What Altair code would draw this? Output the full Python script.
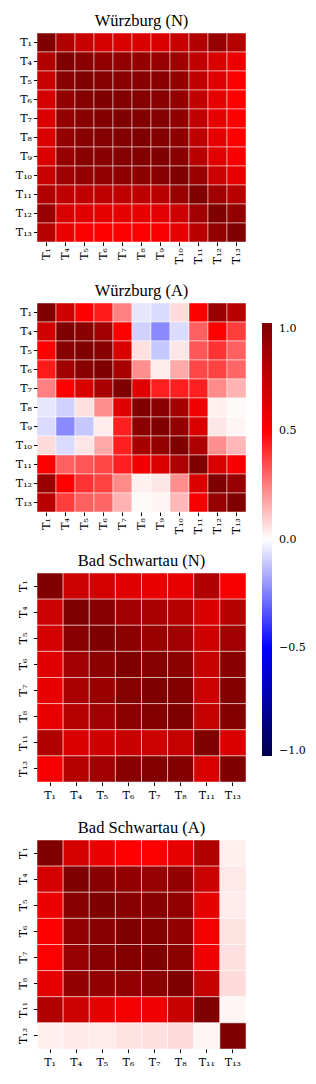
import altair as alt
import pandas as pd

L11 = ["T₁", "T₄", "T₅", "T₆", "T₇", "T₈", "T₉", "T₁₀", "T₁₁", "T₁₂", "T₁₃"]
L8 = ["T₁", "T₄", "T₅", "T₆", "T₇", "T₈", "T₁₁", "T₁₃"]

wuerzburg_n = [
    [1.00, 0.81, 0.72, 0.67, 0.65, 0.65, 0.65, 0.72, 0.81, 0.91, 0.79],
    [0.81, 1.00, 0.97, 0.93, 0.93, 0.92, 0.91, 0.89, 0.75, 0.65, 0.57],
    [0.72, 0.97, 1.00, 0.98, 0.97, 0.97, 0.97, 0.93, 0.75, 0.62, 0.51],
    [0.67, 0.93, 0.98, 1.00, 0.99, 0.98, 0.97, 0.93, 0.75, 0.60, 0.50],
    [0.65, 0.93, 0.97, 0.99, 1.00, 0.99, 0.98, 0.94, 0.75, 0.60, 0.51],
    [0.65, 0.92, 0.97, 0.98, 0.99, 1.00, 0.99, 0.95, 0.76, 0.60, 0.50],
    [0.65, 0.91, 0.97, 0.97, 0.98, 0.99, 1.00, 0.97, 0.78, 0.61, 0.53],
    [0.72, 0.89, 0.93, 0.93, 0.94, 0.95, 0.97, 1.00, 0.90, 0.70, 0.60],
    [0.81, 0.75, 0.75, 0.75, 0.75, 0.76, 0.78, 0.90, 1.00, 0.87, 0.78],
    [0.91, 0.65, 0.62, 0.60, 0.60, 0.60, 0.61, 0.70, 0.87, 1.00, 0.93],
    [0.79, 0.57, 0.51, 0.50, 0.51, 0.50, 0.53, 0.60, 0.78, 0.93, 1.00],
]

wuerzburg_a = [
    [1.00, 0.68, 0.50, 0.45, 0.25, -0.05, -0.07, 0.07, 0.51, 0.90, 0.78],
    [0.68, 1.00, 0.97, 0.87, 0.50, -0.09, -0.23, -0.07, 0.31, 0.50, 0.38],
    [0.50, 0.97, 1.00, 0.97, 0.65, 0.06, -0.11, 0.05, 0.33, 0.40, 0.31],
    [0.45, 0.87, 0.97, 1.00, 0.84, 0.22, 0.04, 0.17, 0.36, 0.37, 0.30],
    [0.25, 0.50, 0.65, 0.84, 1.00, 0.63, 0.44, 0.44, 0.44, 0.23, 0.15],
    [-0.05, -0.09, 0.06, 0.22, 0.63, 1.00, 0.96, 0.85, 0.56, 0.03, 0.01],
    [-0.07, -0.23, -0.11, 0.04, 0.44, 0.96, 1.00, 0.93, 0.65, 0.05, 0.02],
    [0.07, -0.07, 0.05, 0.17, 0.44, 0.85, 0.93, 1.00, 0.82, 0.22, 0.14],
    [0.51, 0.31, 0.33, 0.36, 0.44, 0.56, 0.65, 0.82, 1.00, 0.65, 0.53],
    [0.90, 0.50, 0.40, 0.37, 0.23, 0.03, 0.05, 0.22, 0.65, 1.00, 0.91],
    [0.78, 0.38, 0.31, 0.30, 0.15, 0.01, 0.02, 0.14, 0.53, 0.91, 1.00],
]

schwartau_n = [
    [1.00, 0.70, 0.67, 0.62, 0.59, 0.59, 0.81, 0.53],
    [0.70, 1.00, 0.97, 0.87, 0.83, 0.79, 0.64, 0.79],
    [0.67, 0.97, 1.00, 0.95, 0.90, 0.87, 0.68, 0.87],
    [0.62, 0.87, 0.95, 1.00, 0.98, 0.95, 0.72, 0.97],
    [0.59, 0.83, 0.90, 0.98, 1.00, 0.99, 0.70, 0.99],
    [0.59, 0.79, 0.87, 0.95, 0.99, 1.00, 0.73, 0.99],
    [0.81, 0.64, 0.68, 0.72, 0.70, 0.73, 1.00, 0.64],
    [0.53, 0.79, 0.87, 0.97, 0.99, 0.99, 0.64, 1.00],
]

schwartau_a = [
    [1.00, 0.67, 0.57, 0.50, 0.51, 0.60, 0.81, 0.03],
    [0.67, 1.00, 0.97, 0.93, 0.91, 0.92, 0.70, 0.045],
    [0.57, 0.97, 1.00, 0.97, 0.97, 0.93, 0.60, 0.04],
    [0.50, 0.93, 0.97, 1.00, 0.99, 0.93, 0.54, 0.055],
    [0.51, 0.91, 0.97, 0.99, 1.00, 0.95, 0.56, 0.06],
    [0.60, 0.92, 0.93, 0.93, 0.95, 1.00, 0.72, 0.07],
    [0.81, 0.70, 0.60, 0.54, 0.56, 0.72, 1.00, 0.02],
    [0.03, 0.045, 0.04, 0.055, 0.06, 0.07, 0.02, 1.00],
]

titles = ["Würzburg (N)", "Würzburg (A)", "Bad Schwartau (N)", "Bad Schwartau (A)"]
colorbar_ticks = [1, 0.5, 0, -0.5, -1]

FONT = "DejaVu Serif"
TFONT = "Liberation Serif"

color_scale = alt.Scale(
    domain=[-1, -0.5, 0, 0.5, 1],
    range=["#00004d", "#0000ff", "#ffffff", "#ff0000", "#800000"],
    interpolate="rgb",
)
legend = alt.Legend(
    title=" ", titleFontSize=1, titlePadding=289, padding=0,
    orient="right", offset=15, direction="vertical",
    gradientLength=433, gradientThickness=10, values=colorbar_ticks,
    format=".1f", labelFont=FONT, labelFontSize=11, labelColor="black",
    labelBaseline="middle", gradientStrokeWidth=0, labelOffset=7,
)


def panel(matrix, labels, title, rotated_x):
    rows = []
    for i, rl in enumerate(labels):
        for j, cl in enumerate(labels):
            rows.append({"row": rl, "col": cl, "r": matrix[i][j]})
    df = pd.DataFrame(rows)
    xa = alt.Axis(title=None, labelAngle=270 if rotated_x else 0, domain=False,
                  labelPadding=2 if rotated_x else 4)
    if rotated_x:
        ya = alt.Axis(title=None, labelAngle=0, domain=False, labelPadding=2)
    else:
        ya = alt.Axis(title=None, labelAngle=270, domain=False, labelPadding=5,
                      labelAlign="center", labelBaseline="bottom")
    return alt.Chart(df).mark_rect(stroke="white", strokeWidth=0.6, strokeOpacity=0.8).encode(
        x=alt.X("col:N", sort=labels, axis=xa, scale=alt.Scale(paddingInner=0, paddingOuter=0)),
        y=alt.Y("row:N", sort=labels, axis=ya, scale=alt.Scale(paddingInner=0, paddingOuter=0)),
        color=alt.Color("r:Q", scale=color_scale, legend=legend),
    ).properties(
        width=209, height=209,
        title=alt.TitleParams(title, font=TFONT, fontSize=16.5, fontWeight="normal", offset=3),
    )


p1 = panel(wuerzburg_n, L11, titles[0], True)
p2 = panel(wuerzburg_a, L11, titles[1], True)
p3 = panel(schwartau_n, L8, titles[2], False)
p4 = panel(schwartau_a, L8, titles[3], False)

chart = alt.vconcat(p1, p2, p3, p4, spacing=19).properties(
    padding={"left": 7, "top": 5, "right": 0, "bottom": 0}
).configure_view(stroke=None).configure_axis(
    labelFont=FONT, labelFontSize=11, labelColor="black",
    tickColor="black", tickSize=3.5, tickWidth=1,
)

chart.save("out.html", embed_options={"renderer": "svg", "actions": False})
